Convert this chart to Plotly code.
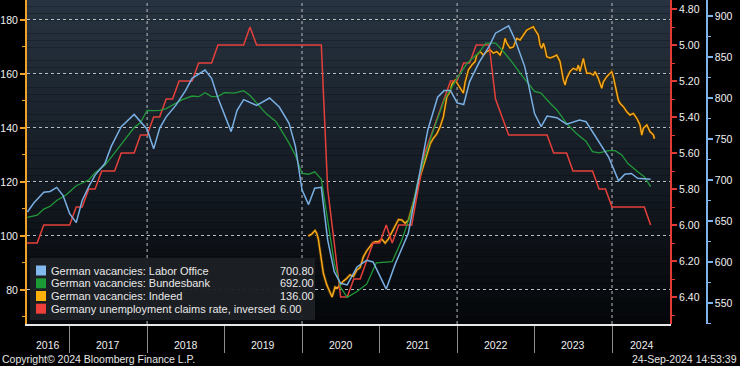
import plotly.graph_objects as go
import pandas as pd

# ---------------- data ----------------
labor_dates = ["2016-06-16","2016-07-16","2016-09-01","2016-10-01","2016-11-01","2016-12-01","2017-01-01","2017-02-01","2017-03-01","2017-04-01",
               "2017-05-01","2017-06-16","2017-07-16","2017-09-01","2017-11-01","2017-12-01","2018-01-01","2018-02-01","2018-03-01","2018-04-01",
               "2018-05-16","2018-07-01","2018-08-01","2018-10-01","2018-11-01","2018-12-01","2019-02-01","2019-03-01","2019-04-01","2019-06-01",
               "2019-08-01","2019-09-16","2019-11-01","2019-12-01","2020-01-01","2020-02-01","2020-03-01","2020-04-01","2020-05-01","2020-06-01",
               "2020-07-01","2020-08-01","2020-09-16","2020-11-01","2020-12-01","2021-02-01","2021-03-16","2021-05-16","2021-07-01","2021-08-16",
               "2021-10-01","2021-11-01","2021-12-01","2022-01-01","2022-02-01","2022-03-01","2022-04-16","2022-06-01","2022-07-01","2022-09-01",
               "2022-10-01","2022-11-16","2023-01-01","2023-02-01","2023-03-01","2023-04-16","2023-06-01","2023-08-01","2023-09-01","2023-10-16",
               "2023-12-16","2024-02-01","2024-03-01","2024-04-01","2024-05-01","2024-07-01"]
labor_vals = [661, 672, 685, 686, 691, 681, 659, 648, 675, 692,
              706, 720, 741, 765, 780, 771, 762, 738, 763, 777,
              791, 809, 824, 834, 824, 800, 759, 785, 798, 791,
              800, 789, 769, 741, 688, 670, 690, 691, 627, 588,
              574, 572, 594, 602, 600, 567, 598, 635, 696, 761,
              801, 809, 809, 794, 792, 820, 844, 863, 879, 888,
              871, 838, 781, 765, 778, 776, 768, 773, 771, 753,
              728, 699, 707, 708, 702, 700.8]

bbk_dates = ["2016-06-16","2016-08-01","2016-09-01","2016-10-01","2016-11-01","2016-12-16","2017-02-01","2017-03-01","2017-04-01","2017-05-01",
             "2017-06-16","2017-08-01","2017-09-16","2017-11-01","2017-12-01","2018-01-01","2018-02-01","2018-03-01","2018-04-01","2018-05-16",
             "2018-06-16","2018-08-01","2018-09-01","2018-10-01","2018-11-01","2018-12-01","2019-01-01","2019-02-16","2019-04-01","2019-05-01",
             "2019-06-01","2019-07-16","2019-09-01","2019-10-01","2019-11-01","2019-12-01","2020-01-01","2020-02-01","2020-03-01","2020-04-01",
             "2020-05-01","2020-06-01","2020-07-01","2020-08-01","2020-09-16","2020-11-01","2020-12-16","2021-03-01","2021-04-16","2021-06-01",
             "2021-07-01","2021-09-01","2021-11-01","2022-01-01","2022-02-16","2022-04-16","2022-05-16","2022-07-01","2022-08-01","2022-09-16",
             "2022-11-01","2022-12-01","2023-01-01","2023-02-01","2023-03-01","2023-04-16","2023-06-01","2023-07-16","2023-09-01","2023-10-01",
             "2023-11-01","2023-12-16","2024-01-16","2024-02-16","2024-03-16","2024-05-01","2024-06-01","2024-07-01"]
bbk_vals = [654.5, 657, 664.6, 668, 675, 682, 693, 696, 700, 709,
            718, 733, 749, 764, 770, 785, 784.5, 785, 787, 794,
            798, 802.4, 801.6, 806.5, 801.6, 802, 806.5, 806, 809, 803,
            793.5, 781, 771, 759, 745, 730, 708, 707, 710, 701,
            651, 599, 569, 557, 564, 573, 599, 600.4, 627, 663,
            700, 753, 797.6, 824, 842, 856, 867, 867, 858.5, 844,
            828, 818, 808, 806, 797.6, 785.4, 769, 757, 747, 734.5,
            733, 735.7, 735.7, 730.5, 720, 710, 704, 692.0]

indeed_t = [2020.081, 2020.125, 2020.168, 2020.190, 2020.210, 2020.241, 2020.275, 2020.319, 2020.361, 2020.387,
            2020.426, 2020.456, 2020.490, 2020.533, 2020.577, 2020.619, 2020.662, 2020.706, 2020.748, 2020.791,
            2020.835, 2020.877, 2020.912, 2020.942, 2020.985, 2021.028, 2021.071, 2021.114, 2021.157, 2021.200,
            2021.243, 2021.286, 2021.329, 2021.372, 2021.403, 2021.436, 2021.480, 2021.523, 2021.565, 2021.609,
            2021.652, 2021.694, 2021.738, 2021.781, 2021.823, 2021.845, 2021.867, 2021.910, 2021.932, 2021.974,
            2022.017, 2022.061, 2022.081, 2022.103, 2022.146, 2022.190, 2022.232, 2022.254, 2022.297, 2022.339,
            2022.383, 2022.426, 2022.468, 2022.512, 2022.555, 2022.597, 2022.619, 2022.641, 2022.684, 2022.726,
            2022.770, 2022.813, 2022.856, 2022.899, 2022.942, 2022.985, 2023.006, 2023.049, 2023.071, 2023.093,
            2023.114, 2023.135, 2023.157, 2023.200, 2023.243, 2023.286, 2023.329, 2023.351, 2023.372, 2023.394,
            2023.415, 2023.458, 2023.501, 2023.545, 2023.565, 2023.587, 2023.630, 2023.652, 2023.674, 2023.716,
            2023.759, 2023.781, 2023.823, 2023.867, 2023.888, 2023.932, 2023.974, 2023.996, 2024.017, 2024.061,
            2024.081, 2024.103, 2024.146, 2024.190, 2024.232, 2024.275, 2024.319, 2024.361, 2024.383, 2024.404,
            2024.448, 2024.490, 2024.533, 2024.546]
indeed_vals = [100.0, 100.7, 102.0, 101.0, 98.9, 92.3, 86.2, 81.9, 79.3, 77.4,
               81.1, 80.7, 81.9, 83.3, 84.3, 85.6, 85.0, 87.4, 88.3, 92.3,
               94.6, 96.0, 97.5, 97.9, 97.9, 98.8, 97.4, 98.9, 101.5, 103.7,
               106.1, 105.9, 104.7, 105.9, 109.0, 112.2, 117.0, 122.0, 126.3, 130.0,
               134.1, 136.2, 137.8, 140.5, 144.2, 148.9, 151.5, 153.5, 156.3, 157.8,
               155.9, 154.1, 152.9, 156.9, 161.5, 163.3, 164.6, 167.0, 168.3, 167.0,
               168.3, 168.9, 167.7, 168.3, 167.0, 170.1, 173.2, 171.4, 169.6, 170.0,
               173.2, 172.6, 174.4, 176.3, 176.9, 177.5, 176.3, 174.4, 170.7, 169.5,
               171.4, 169.5, 166.4, 165.9, 166.4, 167.0, 164.6, 160.4, 157.8, 155.9,
               158.4, 160.9, 162.1, 161.5, 163.3, 160.9, 165.8, 162.7, 160.3, 160.3,
               159.6, 160.9, 158.4, 154.7, 157.1, 159.0, 160.3, 160.9, 159.0, 153.0,
               150.4, 149.1, 147.9, 146.0, 144.8, 145.4, 143.6, 141.1, 137.4, 139.9,
               141.1, 138.6, 137.4, 136.0]

unemp_dates = ["2016-06-01","2016-08-01","2016-09-01","2017-01-01","2017-02-01","2017-03-01","2017-04-01","2017-05-01","2017-06-01","2017-08-01",
               "2017-09-01","2017-11-01","2017-12-01","2018-01-01","2018-02-01","2018-03-01","2018-04-01","2018-05-01","2018-06-01","2018-08-01",
               "2018-09-01","2018-11-01","2018-12-01","2019-04-01","2019-05-01","2019-06-01","2020-04-01","2020-05-01","2020-06-01","2020-07-01",
               "2020-08-01","2020-09-01","2020-10-01","2020-11-01","2020-12-01","2021-01-01","2021-02-01","2021-03-01","2021-04-01","2021-06-01",
               "2021-07-01","2021-08-01","2021-09-01","2021-10-01","2021-11-01","2021-12-01","2022-01-01","2022-02-01","2022-03-01","2022-04-01",
               "2022-06-01","2022-07-01","2022-08-01","2022-09-01","2023-03-01","2023-04-01","2023-06-01","2023-07-01","2023-10-01","2023-11-01",
               "2023-12-01","2024-01-01","2024-06-01","2024-07-01"]
unemp_vals = [6.1, 6.1, 6.0, 6.0, 5.9, 5.9, 5.8, 5.8, 5.7, 5.7,
              5.6, 5.6, 5.5, 5.5, 5.4, 5.4, 5.3, 5.3, 5.2, 5.2,
              5.1, 5.1, 5.0, 5.0, 4.9, 5.0, 5.0, 5.8, 6.1, 6.4,
              6.4, 6.3, 6.3, 6.2, 6.1, 6.1, 6.0, 6.1, 6.0, 6.0,
              5.8, 5.6, 5.5, 5.4, 5.3, 5.2, 5.2, 5.1, 5.1, 5.0,
              5.0, 5.3, 5.4, 5.5, 5.5, 5.6, 5.6, 5.7, 5.7, 5.8,
              5.8, 5.9, 5.9, 6.0]

left_ticks = [80, 100, 120, 140, 160, 180]
red_ticks = [4.8, 5.0, 5.2, 5.4, 5.6, 5.8, 6.0, 6.2, 6.4]
blue_ticks = [550, 600, 650, 700, 750, 800, 850, 900]
years = [2016, 2017, 2018, 2019, 2020, 2021, 2022, 2023, 2024]
grid_years = [2018, 2020, 2022, 2024]

names = ["German vacancies: Labor Office", "German vacancies: Bundesbank",
         "German vacancies: Indeed", "Germany unemployment claims rate, inversed"]

# ---------------- styling ----------------
W, H = 740, 366
L, RPLOT, RAX, B = 27, 671, 707, 324
FONT = "Liberation Sans, Arial, sans-serif"
C_BLUE, C_GREEN, C_ORANGE, C_RED = "#79afe3", "#22993a", "#f7a81c", "#e5403a"
X_RANGE = ["2016-06-14", "2024-10-05"]


def dec_year(t):
    y = int(t)
    s = pd.Timestamp(y, 1, 1)
    e = pd.Timestamp(y + 1, 1, 1)
    return s + (e - s) * (t - y)


def fx(p):
    return (p - L) / (RAX - L)


def fy(p):
    return (B - p) / B


indeed_dates = [dec_year(t) for t in indeed_t]

fig = go.Figure()
fig.add_trace(go.Scatter(x=bbk_dates, y=bbk_vals, yaxis="y3", mode="lines",
                         line=dict(color=C_GREEN, width=1.3), name=names[1]))
fig.add_trace(go.Scatter(x=labor_dates, y=labor_vals, yaxis="y3", mode="lines",
                         line=dict(color=C_BLUE, width=1.5), name=names[0]))
fig.add_trace(go.Scatter(x=unemp_dates, y=unemp_vals, yaxis="y2", mode="lines",
                         line=dict(color=C_RED, width=1.5), name=names[3]))
fig.add_trace(go.Scatter(x=indeed_dates, y=indeed_vals, yaxis="y", mode="lines",
                         line=dict(color="#3a2a08", width=3.2), hoverinfo="skip", showlegend=False))
fig.add_trace(go.Scatter(x=indeed_dates, y=indeed_vals, yaxis="y", mode="lines",
                         line=dict(color=C_ORANGE, width=1.5), name=names[2]))

shapes = []
# vertical gradient background of plot area
N = 48
top = (39, 51, 64)
bot = (5, 7, 10)
for i in range(N):
    f = i / (N - 1)
    c = tuple(int(round(top[k] + (bot[k] - top[k]) * f)) for k in range(3))
    shapes.append(dict(type="rect", xref="paper", yref="paper", layer="below",
                       x0=0, x1=fx(RPLOT), y0=1 - (i + 1) / N, y1=1 - i / N,
                       fillcolor="rgb(%d,%d,%d)" % c, line=dict(width=0)))
# dotted vertical grid lines every two years
for gy in grid_years:
    shapes.append(dict(type="line", xref="x", yref="paper", layer="below",
                       x0="%d-01-01" % gy, x1="%d-01-01" % gy, y0=0, y1=1,
                       line=dict(color="#b9bec4", width=1, dash="dot")))
# legend box
shapes.append(dict(type="rect", xref="paper", yref="paper", layer="above",
                   x0=fx(30), x1=fx(315), y0=fy(320), y1=fy(258),
                   fillcolor="rgba(28,31,36,0.96)", line=dict(width=0)))
row_y = [270.5, 283.3, 296.0, 308.7]
sq_cols = ["#82b9ef", "#1c9a36", "#ffb20a", "#ef3f3a"]
for ry, col in zip(row_y, sq_cols):
    shapes.append(dict(type="rect", xref="paper", yref="paper", layer="above",
                       x0=fx(36), x1=fx(46), y0=fy(ry + 5), y1=fy(ry - 5),
                       fillcolor=col, line=dict(width=0)))

ann = []
last_vals = [labor_vals[-1], bbk_vals[-1], indeed_vals[-1], unemp_vals[-1]]
for ry, nm, v in zip(row_y, names, last_vals):
    ann.append(dict(xref="paper", yref="paper", x=fx(49), y=fy(ry), text=nm, showarrow=False,
                    xanchor="left", yanchor="middle", font=dict(family=FONT, size=11, color="#e9e9e9")))
    ann.append(dict(xref="paper", yref="paper", x=fx(278), y=fy(ry), text="%.2f" % v, showarrow=False,
                    xanchor="left", yanchor="middle", font=dict(family=FONT, size=11, color="#e9e9e9")))

# year labels centred in the visible part of each year
r0, r1 = pd.Timestamp(X_RANGE[0]), pd.Timestamp(X_RANGE[1])
for yr in years:
    a = max(pd.Timestamp(yr, 1, 1), r0)
    b = min(pd.Timestamp(yr + 1, 1, 1), r1)
    mid = a + (b - a) / 2
    ann.append(dict(xref="x", yref="paper", x=mid, y=fy(345), text=str(yr), showarrow=False,
                    xanchor="center", yanchor="middle", font=dict(family=FONT, size=10.5, color="#eeeeee")))

ann.append(dict(xref="paper", yref="paper", x=fx(0), y=fy(359), text="Copyright\u00a9 2024 Bloomberg Finance L.P.",
                showarrow=False, xanchor="left", yanchor="middle",
                font=dict(family=FONT, size=10.5, color="#e6e6e6")))
ann.append(dict(xref="paper", yref="paper", x=fx(739), y=fy(359), text="24-Sep-2024 14:53:39",
                showarrow=False, xanchor="right", yanchor="middle",
                font=dict(family=FONT, size=10.5, color="#e6e6e6")))

tickfont = dict(family=FONT, size=10.5, color="#f0f0f0")
fig.update_layout(
    width=W, height=H,
    margin=dict(l=L, r=W - RAX, t=0, b=H - B, pad=0, autoexpand=False),
    paper_bgcolor="#000000", plot_bgcolor="rgba(0,0,0,0)",
    showlegend=False,
    shapes=shapes, annotations=ann,
    xaxis=dict(type="date", range=X_RANGE, domain=[0, fx(RPLOT)],
               showgrid=False, zeroline=False, showline=True, linecolor="#e8e8e8", linewidth=1.5,
               tickvals=["%d-01-01" % y for y in years[1:]], showticklabels=False,
               ticks="outside", ticklen=27, tickwidth=1, tickcolor="#8c8c8c"),
    yaxis=dict(range=[67.4, 187.4], tickvals=left_ticks, side="left",
               showgrid=True, gridcolor="#b9bec4", griddash="dot", gridwidth=1,
               zeroline=False, showline=True, linecolor="#f0a12a", linewidth=2,
               ticks="outside", ticklen=5, tickwidth=2, tickcolor="#f0a12a",
               minor=dict(dtick=10, ticks="outside", ticklen=3, tickwidth=1, tickcolor="#f0a12a", showgrid=False),
               tickfont=tickfont),
    yaxis2=dict(range=[6.55, 4.75], tickvals=red_ticks, tickformat=".2f",
                overlaying="y", side="right", anchor="free", position=fx(RPLOT),
                showgrid=False, zeroline=False, showline=True, linecolor="#e23b36", linewidth=2,
                ticks="outside", ticklen=5, tickwidth=2, tickcolor="#e23b36",
                minor=dict(dtick=0.1, ticks="outside", ticklen=3, tickwidth=1, tickcolor="#e23b36", showgrid=False),
                tickfont=tickfont),
    yaxis3=dict(range=[524.4, 919.5], tickvals=blue_ticks,
                overlaying="y", side="right", anchor="free", position=1.0,
                showgrid=False, zeroline=False, showline=True, linecolor="#7db3e8", linewidth=1.5,
                ticks="outside", ticklen=5, tickwidth=2, tickcolor="#7db3e8",
                minor=dict(dtick=25, ticks="outside", ticklen=3, tickwidth=1, tickcolor="#7db3e8", showgrid=False),
                tickfont=tickfont),
)

fig.write_html("out.html", config={"displayModeBar": False},
               post_script="document.body.style.margin='0';document.body.style.background='#000';")
